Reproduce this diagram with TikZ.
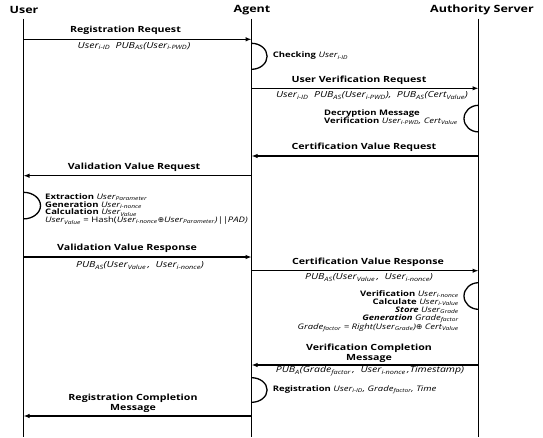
\documentclass[tikz,border=0pt]{standalone}
\usepackage{fontspec}
\setmainfont{Open Sans}[FakeStretch=1.25]
\newfontfamily\symf{DejaVu Sans}
\usetikzlibrary{arrows.meta}
\newcommand\sbs[1]{\textsubscript{#1}}
\newcommand\kw[1]{\textbf{#1}}
\newcommand\kwi[1]{\textbf{\textit{#1}}}
\newcommand\iv[1]{\textit{\mdseries #1}}
\newcommand\xor{{\symf\upshape\mdseries ⊕}}
\begin{document}
\begin{tikzpicture}[x=1pt,y=1pt,
  life/.style={line width=1.6pt},
  msg/.style={line width=1.3pt,-{Latex[length=6pt,width=4.5pt]}},
  lbl/.style={font=\fontsize{8.5}{9.6}\selectfont\bfseries,align=center,inner sep=0pt},
  sublbl/.style={font=\fontsize{8.4}{9}\selectfont\itshape,inner sep=0pt},
  hdr/.style={font=\fontsize{10}{12}\selectfont\bfseries,inner sep=0pt},
  note/.style={font=\fontsize{7.6}{7.9}\selectfont,inner sep=0pt},
  loopc/.style={line width=1.3pt}]
\useasboundingbox[fill=white] (0,0) rectangle (543,-437);
% headers
\node[hdr] (hU) at (24,-10) {User};
\node[hdr] (hA) at (252,-10) {Agent};
\node[hdr] (hS) at (482,-10) {Authority Server};
% lifelines
\coordinate (Ut) at (23.5,-18.5); \coordinate (Ub) at (23.5,-437);
\coordinate (At) at (251.6,-18.5); \coordinate (Ab) at (251.6,-437);
\coordinate (St) at (478.5,-18.5); \coordinate (Sb) at (478.5,-437);
\draw[life] (Ut) -- (Ub);
\draw[life] (At) -- (Ab);
\draw[life] (St) -- (Sb);
% 1 Registration Request
\coordinate (u1) at (23.5,-39.3); \coordinate (a1) at (251.6,-39.3);
\draw[msg] (u1) -- (a1);
\node[lbl] (l1) at (125.5,-30.7) {Registration Request};
\node[sublbl] (s1) at (134,-46) {User\sbs{i-ID}\ \ PUB\sbs{AS}(User\sbs{i-PWD})};
% checking
\coordinate (c1) at (251.6,-43.3);
\draw[loopc] (c1) arc[start angle=90,end angle=-90,x radius=15.5,y radius=13];
\node[note,anchor=west] (n1) at (272.7,-56) {\kw{Checking} \iv{User\sbs{i-ID}}};
% 2 User Verification Request
\coordinate (a2) at (251.6,-88.3); \coordinate (s2) at (478.5,-88.3);
\draw[msg] (a2) -- (s2);
\node[lbl] (l2) at (359,-80) {User Verification Request};
\node[sublbl] (t2) at (372,-95.7) {User\sbs{i-ID}\ \ PUB\sbs{AS}(User\sbs{i-PWD}),\ \ PUB\sbs{AS}(Cert\sbs{Value})};
% decryption
\coordinate (c2) at (478.5,-105.3);
\draw[loopc] (c2) arc[start angle=90,end angle=270,x radius=14.5,y radius=13.3];
\node[note,anchor=west,align=left] (n2) at (324,-117.3) {\kw{Decryption Message}\\\kw{Verification} \iv{User\sbs{i-PWD}, Cert\sbs{Value}}};
% 3 Certification Value Request
\coordinate (s3) at (478.5,-156); \coordinate (a3) at (251.6,-156);
\draw[msg] (s3) -- (a3);
\node[lbl] (l3) at (364,-147.7) {Certification Value Request};
% 4 Validation Value Request
\coordinate (a4) at (251.6,-175.7); \coordinate (u4) at (23.5,-175.7);
\draw[msg] (a4) -- (u4);
\node[lbl] (l4) at (134,-167.3) {Validation Value Request};
% user computation
\coordinate (c3) at (23.5,-192.3);
\draw[loopc] (c3) arc[start angle=90,end angle=-90,x radius=17,y radius=13.3];
\node[note,anchor=west,align=left] (n3) at (45,-209) {\kw{Extraction} \iv{User\sbs{Parameter}}\\\kw{Generation} \iv{User\sbs{i-nonce}}\\\kw{Calculation} \iv{User\sbs{Value}}\\\iv{User\sbs{Value}} = Hash(\iv{User\sbs{i-nonce}}\xor\iv{User\sbs{Parameter})||PAD)}};
% 5 Validation Value Response
\coordinate (u5) at (23.5,-257); \coordinate (a5) at (251.6,-257);
\draw[msg] (u5) -- (a5);
\node[lbl] (l5) at (127,-248.7) {Validation Value Response};
\node[sublbl] (t5) at (140,-265.7) {PUB\sbs{AS}(User\sbs{Value}\,,\ \ User\sbs{i-nonce})};
% 6 Certification Value Response
\coordinate (a6) at (251.6,-270.7); \coordinate (s6) at (478.5,-270.7);
\draw[msg] (a6) -- (s6);
\node[lbl] (l6) at (368,-262.3) {Certification Value Response};
\node[sublbl] (t6) at (369,-277.7) {PUB\sbs{AS}(User\sbs{Value}\,,\ \ User\sbs{i-nonce})};
% authority computation
\coordinate (c4) at (478.5,-282.7);
\draw[loopc] (c4) arc[start angle=90,end angle=270,x radius=14.5,y radius=13.3];
\node[note,anchor=east,align=right] (n4) at (459,-311.5) {\kw{Verification} \iv{User\sbs{i-nonce}}\\\kw{Calculate} \iv{User\sbs{i-Value}}\\\kwi{Store} \iv{User\sbs{Grade}}\\\kwi{Generation} \iv{Grade\sbs{factor}}\\\iv{Grade\sbs{factor} = Right(User\sbs{Grade})}\xor\ \iv{Cert\sbs{Value}}};
% 7 Verification Completion Message
\coordinate (s7) at (478.5,-365); \coordinate (a7) at (251.6,-365);
\draw[msg] (s7) -- (a7);
\node[lbl] (l7) at (369,-353.5) {Verification Completion\\Message};
\node[sublbl] (t7) at (370,-371) {PUB\sbs{A}(Grade\sbs{factor}\,,\ \ User\sbs{i-nonce}\,,Timestamp)};
% registration
\coordinate (c5) at (251.6,-377.7);
\draw[loopc] (c5) arc[start angle=90,end angle=-90,x radius=15.5,y radius=12.3];
\node[note,anchor=west] (n5) at (272.7,-390) {\kw{Registration} \iv{User\sbs{i-ID}, Grade\sbs{factor}, Time}};
% 8 Registration Completion Message
\coordinate (a8) at (251.6,-416); \coordinate (u8) at (23.5,-416);
\draw[msg] (a8) -- (u8);
\node[lbl] (l8) at (133,-403.5) {Registration Completion\\Message};
\end{tikzpicture}
\end{document}
